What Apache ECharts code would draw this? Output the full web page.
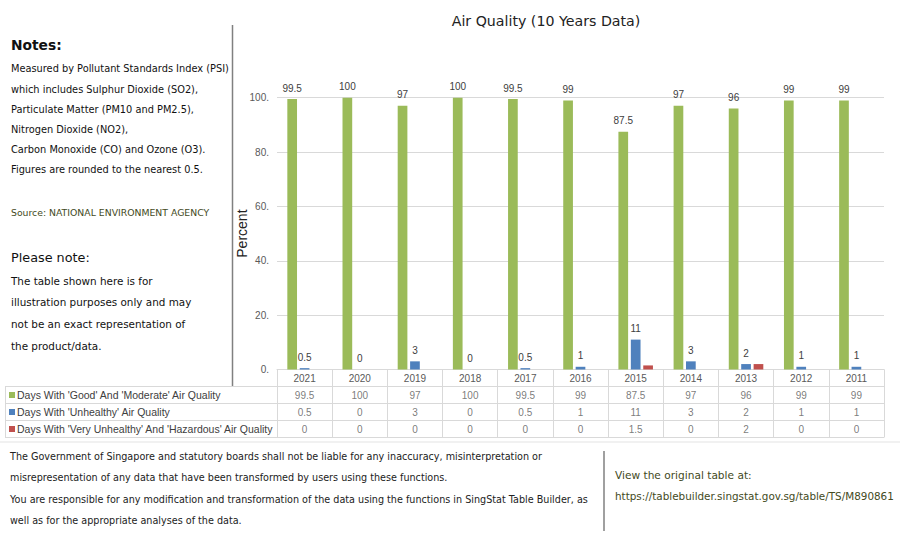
<!DOCTYPE html>
<html>
<head>
<meta charset="utf-8">
<script src="https://cdn.jsdelivr.net/npm/echarts@6/dist/echarts.min.js"></script>
<style>
html,body{margin:0;padding:0;background:#fff;}
#chart{width:900px;height:537px;}
</style>
</head>
<body>
<div id="chart"></div>
<script>
const years = ['2021','2020','2019','2018','2017','2016','2015','2014','2013','2012','2011'];
const seriesNames = [
  "Days With 'Good' And 'Moderate' Air Quality",
  "Days With 'Unhealthy' Air Quality",
  "Days With 'Very Unhealthy' And 'Hazardous' Air Quality"
];
const goodModerate = [99.5, 100, 97, 100, 99.5, 99, 87.5, 97, 96, 99, 99];
const unhealthy = [0.5, 0, 3, 0, 0.5, 1, 11, 3, 2, 1, 1];
const hazardous = [0, 0, 0, 0, 0, 0, 1.5, 0, 2, 0, 0];
const yTicks = [0, 20, 40, 60, 80, 100];

const colors = ['#9bbb59', '#4f81bd', '#c0504d'];
const valueRows = [goodModerate, unhealthy, hazardous];

const noteLines = [
  'Measured by Pollutant Standards Index (PSI)',
  'which includes Sulphur Dioxide (SO2),',
  'Particulate Matter (PM10 and PM2.5),',
  'Nitrogen Dioxide (NO2),',
  'Carbon Monoxide (CO) and Ozone (O3).',
  'Figures are rounded to the nearest 0.5.'
];
const pleaseLines = [
  'The table shown here is for',
  'illustration purposes only and may',
  'not be an exact representation of',
  'the product/data.'
];
const footerLines = [
  'The Government of Singapore and statutory boards shall not be liable for any inaccuracy, misinterpretation or',
  'misrepresentation of any data that have been transformed by users using these functions.',
  'You are responsible for any modification and transformation of the data using the functions in SingStat Table Builder, as',
  'well as for the appropriate analyses of the data.'
];

const FONT_UI = '"DejaVu Sans", "Open Sans", sans-serif';
const FONT_XL = '"Liberation Sans", Arial, sans-serif';
const olive = '#434a1d';

const chart = echarts.init(document.getElementById('chart'), null, {renderer: 'svg'});

const graphics = [];
function txt(x, y, text, size, opts) {
  opts = opts || {};
  graphics.push({
    type: 'text', x: x, y: y, silent: true,
    style: {
      text: text,
      fill: opts.fill || '#111',
      font: (opts.weight || 'normal') + ' ' + size + 'px ' + (opts.family || FONT_UI),
      textAlign: opts.align || 'left',
      textVerticalAlign: 'middle'
    }
  });
}
function line(x1, y1, x2, y2, stroke, w) {
  graphics.push({type: 'line', silent: true, shape: {x1: x1, y1: y1, x2: x2, y2: y2},
    style: {stroke: stroke, lineWidth: w}});
}

// title
txt(546, 21, 'Air Quality (10 Years Data)', 14.2, {fill: '#222', align: 'center'});
// notes
txt(11, 45, 'Notes:', 13.8, {weight: 'bold'});
const noteY = [68, 89.5, 109.5, 129.5, 149.5, 169.5];
noteLines.forEach((t, i) => txt(11, noteY[i], t, 9.8));
txt(11, 212.5, 'Source: NATIONAL ENVIRONMENT AGENCY', 9.3, {fill: olive});
txt(11, 257, 'Please note:', 12.8);
const pleaseY = [281, 302, 323.5, 345.5];
pleaseLines.forEach((t, i) => txt(11, pleaseY[i], t, 10.4));
// footer
const footY = [456, 477.5, 499, 520];
footerLines.forEach((t, i) => txt(10, footY[i], t, 9.65, {fill: '#222'}));
txt(615, 475, 'View the original table at:', 10.6, {fill: olive});
txt(615, 496, 'https://tablebuilder.singstat.gov.sg/table/TS/M890861', 10.4, {fill: olive});
// dividers
line(232.5, 25, 232.5, 386, '#808080', 1.5);
line(604, 451, 604, 531, '#808080', 1.5);
line(0, 442, 900, 442, '#e3e3e3', 1);
// legend column borders of the data table
[386.5, 403.5, 420.5, 437.5].forEach(y => line(5, y, 277, y, '#d9d9d9', 1));
line(5.5, 386.5, 5.5, 437.5, '#d9d9d9', 1);

const cellSeries = [];
valueRows.forEach((row, r) => {
  cellSeries.push({
    type: 'scatter', xAxisIndex: 1, yAxisIndex: 1, silent: true,
    symbolSize: 1, itemStyle: {color: 'rgba(0,0,0,0)'},
    data: row.map((v, i) => [i, r + 1, v]),
    label: {show: true, position: 'inside', formatter: p => String(p.value[2]),
      color: '#595959', fontSize: 10, fontFamily: FONT_XL}
  });
});

const rich = {
  t: {fontSize: 10.5, color: '#404040', fontFamily: FONT_XL, padding: [0, 0, 0, 2]}
};
colors.forEach((c, i) => { rich['s' + (i + 1)] = {width: 6, height: 6, backgroundColor: c}; });

const option = {
  animation: false,
  backgroundColor: '#fff',
  graphic: graphics,
  grid: [
    {left: 277, right: 16, top: 97.7, height: 271.8},
    {left: 277, right: 16, top: 369.5, height: 68}
  ],
  xAxis: [
    {type: 'category', data: years, gridIndex: 0,
      axisLine: {show: true, lineStyle: {color: '#d9d9d9'}},
      axisTick: {show: false},
      axisLabel: {margin: 4, color: '#595959', fontSize: 10, fontFamily: FONT_XL}},
    {type: 'category', data: years, gridIndex: 1,
      axisLine: {show: false}, axisTick: {show: false}, axisLabel: {show: false},
      splitLine: {show: true, lineStyle: {color: '#d9d9d9'}}}
  ],
  yAxis: [
    {type: 'value', gridIndex: 0, min: yTicks[0], max: yTicks[yTicks.length - 1], interval: 20,
      name: 'Percent', nameLocation: 'middle', nameGap: 28, nameMoveOverlap: false,
      nameTextStyle: {fontSize: 14, color: '#222', fontFamily: FONT_XL},
      axisLine: {show: false}, axisTick: {show: false},
      axisLabel: {formatter: v => v + '.', color: '#595959', fontSize: 10, fontFamily: FONT_XL, margin: 8},
      splitLine: {lineStyle: {color: '#d9d9d9'}}},
    {type: 'category', gridIndex: 1, inverse: true, data: [''].concat(seriesNames),
      axisLine: {show: true, lineStyle: {color: '#d9d9d9'}}, axisTick: {show: false},
      splitLine: {show: true, lineStyle: {color: '#d9d9d9'}},
      axisLabel: {align: 'left', margin: 268,
        formatter: (v, idx) => idx === 0 ? '' : '{s' + idx + '|}{t|' + v + '}', rich: rich}}
  ],
  series: [
    {name: seriesNames[0], type: 'bar', data: goodModerate, barWidth: 9.7, barGap: '28%',
      itemStyle: {color: colors[0]},
      label: {show: true, position: 'top', distance: 6, color: '#404040', fontSize: 10, fontFamily: FONT_XL}},
    {name: seriesNames[1], type: 'bar', data: unhealthy, barWidth: 9.7, barGap: '28%',
      itemStyle: {color: colors[1]},
      label: {show: true, position: 'top', distance: 6, color: '#404040', fontSize: 10, fontFamily: FONT_XL}},
    {name: seriesNames[2], type: 'bar', data: hazardous, barWidth: 9.7, barGap: '28%',
      itemStyle: {color: colors[2]},
      label: {show: false}}
  ].concat(cellSeries)
};
chart.setOption(option);
</script>
</body>
</html>
